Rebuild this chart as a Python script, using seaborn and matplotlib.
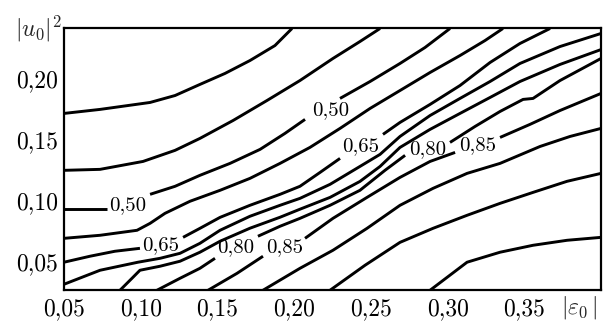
import matplotlib
matplotlib.use('Agg')
import matplotlib.pyplot as plt
import numpy as np
import seaborn as sns

# contour lines: x = |eps0|, y = |u0|^2
# lines that carry a label are split into pieces around the label
c1_x = [.0500, .0735, .1061, .1224, .1386, .1549, .1712, .1875, .1986]
c1_y = [.1719, .1752, .1809, .1866, .1957, .2047, .2153, .2276, .2416]

c2_x = [.0500, .0735, .1015, .1224, .1386, .1602, .1823, .2038, .2253, .2429, .2560]
c2_y = [.1252, .1260, .1325, .1416, .1514, .1661, .1825, .1989, .2170, .2309, .2416]

# 0,50
c3a_x = [.0500, .0780]
c3a_y = [.0932, .0932]
c3b_x = [.1061, .1224, .1386, .1582, .1778, .1940, .2071]
c3b_y = [.1055, .1121, .1211, .1309, .1424, .1555, .1670]
c3c_x = [.2299, .2495, .2690, .2853, .3016]
c3c_y = [.1842, .1981, .2129, .2260, .2416]

c4_x = [.0500, .0735, .0976, .1061, .1158, .1321, .1517, .1712, .1908, .2103,
        .2299, .2495, .2690, .2886, .3081, .3244, .3361]
c4_y = [.0694, .0719, .0760, .0817, .0899, .0998, .1088, .1186, .1309, .1440,
        .1596, .1760, .1907, .2055, .2194, .2317, .2416]

# 0,65
c5a_x = [.0500, .0669, .0832, .0995]
c5a_y = [.0498, .0547, .0588, .0612]
c5b_x = [.1276, .1386, .1517, .1712, .1908, .2038, .2169, .2299]
c5b_y = [.0702, .0776, .0866, .0965, .1055, .1121, .1235, .1350]
c5c_x = [.2579, .2690, .2886, .3081, .3277, .3472, .3668]
c5c_y = [.1547, .1645, .1793, .1948, .2137, .2293, .2416]

c6_x = [.0500, .0735, .0982, .1126, .1256, .1386, .1517, .1712, .1908, .2038,
        .2234, .2429, .2560, .2690, .2886, .3081, .3277, .3472, .3733, .4000]
c6_y = [.0317, .0432, .0498, .0530, .0571, .0653, .0760, .0875, .0965, .1022,
        .1137, .1284, .1383, .1530, .1702, .1842, .1981, .2129, .2268, .2375]

c7_x = [.0865, .0943, .0995, .1126, .1256, .1386, .1517, .1712, .1908, .2038,
        .2234, .2429, .2560, .2690, .2886, .3081, .3277, .3472, .3733, .4000]
c7_y = [.0268, .0366, .0432, .0465, .0506, .0580, .0670, .0777, .0867, .0933,
        .1030, .1161, .1284, .1440, .1588, .1719, .1850, .1981, .2121, .2243]

# 0,80
c8a_x = [.1106, .1256, .1386, .1484]
c8a_y = [.0268, .0366, .0448, .0530]
c8b_x = [.1764, .1908, .2038, .2234, .2429, .2592, .2723]
c8b_y = [.0711, .0793, .0858, .0965, .1088, .1252, .1375]
c8c_x = [.3016, .3179, .3342, .3492, .3557, .3733, .4000]
c8c_y = [.1481, .1612, .1735, .1834, .1842, .1989, .2170]

# 0,85
c9a_x = [.1439, .1628, .1797]
c9a_y = [.0268, .0407, .0547]
c9b_x = [.2071, .2253, .2475, .2690, .2886, .3049]
c9b_y = [.0694, .0858, .1030, .1194, .1325, .1399]
c9c_x = [.3342, .3537, .3733, .4000]
c9c_y = [.1522, .1629, .1743, .1883]

c10_x = [.1797, .2038, .2253, .2475, .2690, .2905, .3127, .3342, .3603, .3798, .4000]
c10_y = [.0268, .0448, .0596, .0776, .0965, .1104, .1227, .1309, .1448, .1530, .1596]

c11_x = [.2234, .2462, .2690, .2905, .3127, .3342, .3557, .3779, .4000]
c11_y = [.0268, .0473, .0661, .0776, .0883, .0981, .1071, .1162, .1227]

c12_x = [.2886, .3127, .3342, .3557, .3779, .4000]
c12_y = [.0268, .0498, .0580, .0637, .0678, .0702]

label_text = ['0,50', '0,50', '0,65', '0,65', '0,80', '0,80', '0,85', '0,85']
label_x = [.0917, .2240, .1132, .2436, .1621, .2873, .1940, .3199]
label_y = [.0965, .1743, .0637, .1448, .0620, .1424, .0620, .1457]

x_ticks = [0.05, 0.10, 0.15, 0.20, 0.25, 0.30, 0.35]
x_ticklabels = ['0,05', '0,10', '0,15', '0,20', '0,25', '0,30', '0,35']
y_ticks = [0.05, 0.10, 0.15, 0.20]
y_ticklabels = ['0,05', '0,10', '0,15', '0,20']

pieces = [
    (c1_x, c1_y), (c2_x, c2_y),
    (c3a_x, c3a_y), (c3b_x, c3b_y), (c3c_x, c3c_y),
    (c4_x, c4_y),
    (c5a_x, c5a_y), (c5b_x, c5b_y), (c5c_x, c5c_y),
    (c6_x, c6_y), (c7_x, c7_y),
    (c8a_x, c8a_y), (c8b_x, c8b_y), (c8c_x, c8c_y),
    (c9a_x, c9a_y), (c9b_x, c9b_y), (c9c_x, c9c_y),
    (c10_x, c10_y), (c11_x, c11_y), (c12_x, c12_y),
]


def main():
    sns.set_style('white')
    plt.rcParams['font.family'] = ['cmr10', 'DejaVu Serif']
    plt.rcParams['mathtext.fontset'] = 'cm'
    plt.rcParams['axes.unicode_minus'] = False

    fig = plt.figure(figsize=(6.06, 3.23), dpi=100)
    ax = fig.add_axes([64/606, 33/323, 537/606, 262/323])

    for px, py in pieces:
        sns.lineplot(x=np.array(px), y=np.array(py), sort=False, estimator=None,
                     color='black', linewidth=2.1, ax=ax,
                     solid_joinstyle='round', solid_capstyle='butt')

    for t, lx, ly in zip(label_text, label_x, label_y):
        ax.text(lx, ly, t, ha='center', va='center', fontsize=15, color='black')

    ax.set_xlim(0.05, 0.40)
    ax.set_ylim(0.027, 0.242)
    ax.set_xticks(x_ticks)
    ax.set_xticklabels(x_ticklabels)
    ax.set_yticks(y_ticks)
    ax.set_yticklabels(y_ticklabels)
    ax.tick_params(axis='x', pad=6)
    ax.tick_params(axis='y', pad=4)
    ax.tick_params(direction='in', length=8, width=1.6, labelsize=17,
                   top=False, right=False, colors='black')
    for s in ax.spines.values():
        s.set_visible(True)
        s.set_color('black')
        s.set_linewidth(1.6)
    ax.set_xlabel('')
    ax.set_ylabel('')

    ax.text(0.993, -0.088, r'$|\varepsilon_0\,|$', transform=ax.transAxes,
            ha='right', va='baseline', fontsize=17)
    ax.text(-0.004, 0.969, r'$|u_0|^2$', transform=ax.transAxes,
            ha='right', va='baseline', fontsize=17)

    fig.savefig('out.png', dpi=100, facecolor='white')


if __name__ == '__main__':
    main()
